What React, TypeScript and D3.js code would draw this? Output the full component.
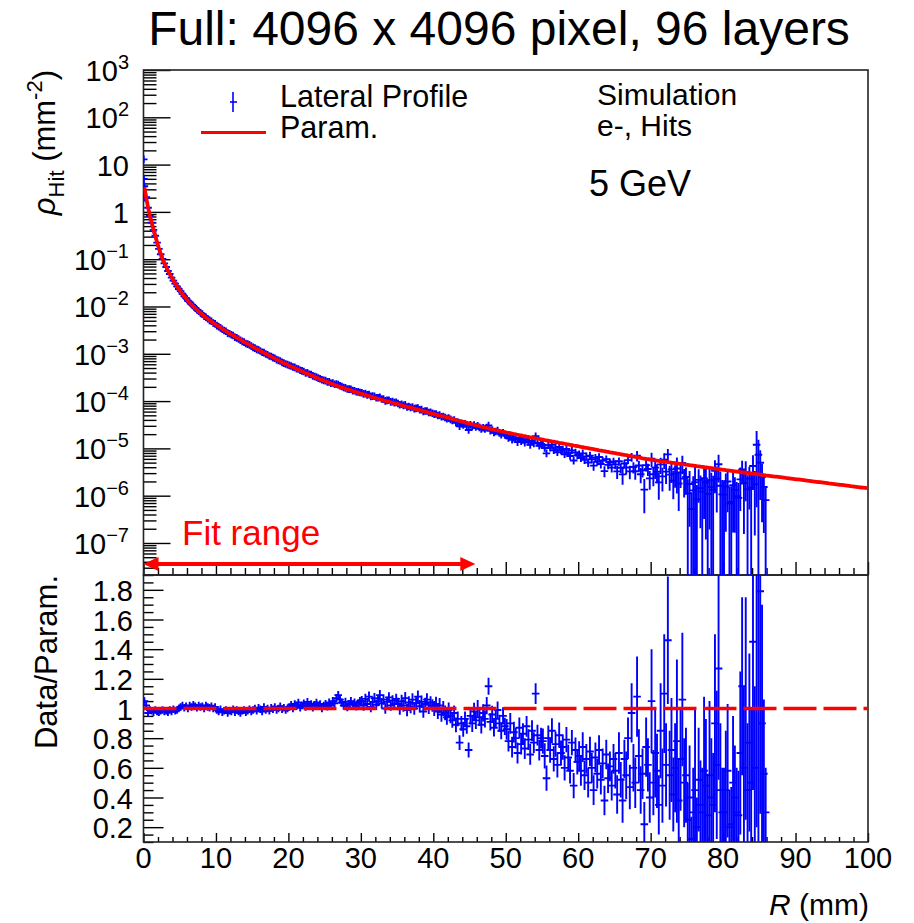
import React, { useEffect, useRef } from "react";
import * as d3 from "d3";

// lateral profile, 0.25 mm bins starting at R = 0
const BIN_WIDTH = 0.25;

// log10 of the parametrisation at the bin centres (0.125, 0.375, ... 99.875 mm)
const paramLog = [
  0.52, 0.30, 0.10, -0.08, -0.22, -0.37, -0.50, -0.64, -0.77, -0.89,
  -0.99, -1.08, -1.16, -1.24, -1.31, -1.38, -1.45, -1.51, -1.57, -1.63,
  -1.68, -1.74, -1.785, -1.83, -1.88, -1.92, -1.96, -2.0, -2.036, -2.07,
  -2.11, -2.14, -2.17, -2.205, -2.235, -2.265, -2.295, -2.32, -2.35, -2.37,
  -2.40, -2.42, -2.45, -2.47, -2.50, -2.52, -2.55, -2.57, -2.59, -2.61,
  -2.64, -2.66, -2.68, -2.70, -2.73, -2.75, -2.77, -2.79, -2.81, -2.83,
  -2.86, -2.88, -2.90, -2.92, -2.94, -2.96, -2.98, -3.0, -3.02, -3.04,
  -3.06, -3.08, -3.10, -3.12, -3.14, -3.16, -3.18, -3.20, -3.21, -3.23,
  -3.25, -3.27, -3.28, -3.30, -3.32, -3.34, -3.35, -3.37, -3.39, -3.41,
  -3.42, -3.44, -3.45, -3.47, -3.49, -3.51, -3.52, -3.54, -3.55, -3.57,
  -3.58, -3.60, -3.61, -3.63, -3.64, -3.66, -3.67, -3.69, -3.70, -3.71,
  -3.72, -3.74, -3.75, -3.76, -3.77, -3.79, -3.80, -3.81, -3.82, -3.84,
  -3.845, -3.856, -3.869, -3.881, -3.894, -3.905, -3.915, -3.926, -3.939, -3.95,
  -3.96, -3.971, -3.984, -3.995, -4.005, -4.015, -4.025, -4.035, -4.045, -4.055,
  -4.065, -4.076, -4.089, -4.10, -4.11, -4.12, -4.13, -4.14, -4.15, -4.16,
  -4.17, -4.18, -4.19, -4.20, -4.21, -4.221, -4.234, -4.245, -4.255, -4.265,
  -4.275, -4.285, -4.295, -4.305, -4.315, -4.325, -4.335, -4.345, -4.355, -4.365,
  -4.375, -4.386, -4.399, -4.41, -4.42, -4.43, -4.44, -4.45, -4.46, -4.47,
  -4.48, -4.49, -4.50, -4.51, -4.52, -4.53, -4.539, -4.549, -4.558, -4.568,
  -4.576, -4.586, -4.594, -4.604, -4.613, -4.621, -4.63, -4.638, -4.647, -4.655,
  -4.664, -4.672, -4.68, -4.688, -4.696, -4.704, -4.712, -4.72, -4.727, -4.735,
  -4.742, -4.75, -4.757, -4.765, -4.772, -4.78, -4.786, -4.794, -4.801, -4.808,
  -4.815, -4.823, -4.83, -4.838, -4.844, -4.852, -4.859, -4.866, -4.873, -4.881,
  -4.888, -4.895, -4.902, -4.91, -4.917, -4.924, -4.931, -4.939, -4.946, -4.953,
  -4.96, -4.968, -4.975, -4.982, -4.989, -4.997, -5.004, -5.011, -5.018, -5.025,
  -5.032, -5.04, -5.046, -5.054, -5.06, -5.068, -5.074, -5.082, -5.088, -5.096,
  -5.102, -5.11, -5.116, -5.124, -5.13, -5.138, -5.145, -5.152, -5.159, -5.167,
  -5.173, -5.181, -5.187, -5.195, -5.201, -5.209, -5.215, -5.223, -5.229, -5.236,
  -5.241, -5.247, -5.252, -5.257, -5.262, -5.268, -5.273, -5.279, -5.284, -5.29,
  -5.295, -5.301, -5.306, -5.311, -5.316, -5.322, -5.327, -5.333, -5.338, -5.344,
  -5.349, -5.355, -5.36, -5.365, -5.37, -5.376, -5.381, -5.387, -5.392, -5.398,
  -5.403, -5.408, -5.413, -5.418, -5.423, -5.428, -5.433, -5.438, -5.443, -5.449,
  -5.454, -5.46, -5.464, -5.469, -5.474, -5.479, -5.484, -5.489, -5.494, -5.5,
  -5.505, -5.51, -5.515, -5.52, -5.525, -5.53, -5.535, -5.54, -5.545, -5.551,
  -5.556, -5.561, -5.566, -5.571, -5.575, -5.58, -5.585, -5.59, -5.595, -5.599,
  -5.604, -5.609, -5.614, -5.619, -5.624, -5.628, -5.633, -5.638, -5.643, -5.648,
  -5.653, -5.657, -5.662, -5.667, -5.672, -5.677, -5.682, -5.686, -5.691, -5.696,
  -5.701, -5.706, -5.711, -5.715, -5.72, -5.725, -5.73, -5.735, -5.74, -5.744,
  -5.749, -5.754, -5.759, -5.764, -5.769, -5.773, -5.778, -5.783, -5.788, -5.793,
  -5.798, -5.802, -5.807, -5.812, -5.817, -5.822, -5.827, -5.831, -5.836, -5.841,
];

// Data/Param. per bin (0 - 86 mm)
const ratio = [
  1.05, 1.02, 0.97, 0.99, 0.985, 0.975, 0.99, 0.98, 0.975, 0.985,
  0.99, 0.98, 0.985, 0.975, 0.99, 0.98, 0.995, 0.985, 0.99, 1.0,
  1.01, 1.02, 1.005, 1.015, 1.0, 1.02, 1.01, 1.025, 1.015, 1.005,
  1.02, 1.01, 1.015, 1.0, 1.02, 1.01, 1.005, 1.015, 1.0, 1.01,
  0.99, 0.98, 0.995, 0.975, 0.985, 0.99, 0.97, 0.985, 0.98, 0.995,
  0.975, 0.99, 0.98, 0.97, 0.985, 0.99, 0.975, 0.985, 0.995, 0.98,
  0.99, 1.0, 0.985, 1.005, 0.995, 0.98, 1.01, 0.99, 1.0, 0.985,
  1.005, 0.995, 1.01, 0.99, 1.0, 1.015, 0.995, 1.005, 0.99, 1.0,
  1.01, 1.025, 1.0, 1.03, 1.015, 1.04, 1.005, 1.02, 1.035, 1.01,
  1.045, 1.02, 1.03, 1.005, 1.025, 1.04, 1.015, 1.03, 1.0, 1.02,
  1.03, 1.015, 1.04, 1.02, 1.05, 1.035, 1.07, 1.09, 1.06, 1.04,
  1.02, 1.045, 1.01, 1.03, 1.05, 1.025, 1.04, 1.015, 1.035, 1.05,
  1.05, 1.02, 1.065, 1.03, 1.08, 1.01, 1.045, 1.07, 1.025, 1.05,
  1.09, 1.035, 1.06, 1.0, 1.045, 1.075, 1.02, 1.055, 1.03, 1.065,
  1.03, 1.0, 1.05, 1.02, 1.07, 0.99, 1.04, 1.01, 1.06, 1.0,
  1.035, 1.08, 1.015, 1.045, 0.98, 1.03, 1.06, 1.005, 1.04, 1.02,
  1.0, 1.03, 0.98, 1.02, 0.96, 1.0, 0.97, 0.94, 0.99, 0.95,
  0.92, 0.97, 0.89, 0.93, 0.77, 0.9, 0.86, 0.93, 0.88, 0.72,
  0.95, 0.9, 0.98, 0.92, 1.0, 0.94, 0.89, 0.97, 0.93, 1.02,
  1.15, 0.91, 0.96, 0.87, 0.93, 0.99, 0.9, 0.85, 0.95, 0.88,
  0.86, 0.78, 0.9, 0.74, 0.84, 0.8, 0.7, 0.87, 0.76, 0.83,
  0.73, 0.88, 0.79, 0.69, 0.85, 0.77, 1.1, 0.82, 0.72, 0.8,
  0.78, 0.68, 0.53, 0.8, 0.72, 0.85, 0.66, 0.76, 0.62, 0.82,
  0.7, 0.74, 0.6, 0.79, 0.67, 0.58, 0.77, 0.48, 0.72, 0.64,
  0.68, 0.58, 0.74, 0.55, 0.66, 0.5, 0.71, 0.6, 0.45, 0.67,
  0.56, 0.72, 0.52, 0.63, 0.38, 0.69, 0.53, 0.61, 0.48, 0.66,
  0.58, 0.42, 0.7, 0.52, 0.38, 0.66, 0.55, 0.8, 0.47, 0.97,
  0.6, 0.5, 1.08, 0.68, 0.45, 0.56, 0.22, 0.74, 0.62, 0.4,
  1.05, 0.5, 0.7, 0.58, 0.35, 0.85, 0.48, 1.1, 0.62, 1.46,
  0.55, 0.72, 0.42, 0.6, 0.78, 0.38, 0.66, 1.06, 0.5, 0.55,
  0.25, 0.4, 0.12, 0.3, 0.45, 0.2, 0.52, 0.35, 0.3, 0.58,
  0.48, 0.28, 0.55, 0.4, 0.35, 0.9, 0.62, 1.27, 0.45, 0.3,
  0.3, 0.45, 0.58, 0.2, 0.22, 0.5, 0.4, 0.3, 0.28, 0.7,
  1.15, 0.6, 1.0, 0.45, 0.77, 0.5, 1.45, 0.6, 4.2, 2.6,
  1.79, 0.9, 0.56, 0.3,
];

const ratioErr = [
  0.02, 0.015, 0.012, 0.012, 0.011, 0.011, 0.011, 0.011, 0.011, 0.011,
  0.011, 0.011, 0.012, 0.012, 0.012, 0.012, 0.012, 0.012, 0.012, 0.012,
  0.013, 0.013, 0.013, 0.013, 0.013, 0.013, 0.013, 0.013, 0.013, 0.013,
  0.013, 0.013, 0.013, 0.013, 0.013, 0.013, 0.013, 0.013, 0.013, 0.013,
  0.015, 0.015, 0.015, 0.015, 0.015, 0.015, 0.015, 0.015, 0.015, 0.015,
  0.015, 0.015, 0.015, 0.015, 0.015, 0.015, 0.015, 0.015, 0.015, 0.015,
  0.018, 0.018, 0.018, 0.018, 0.018, 0.018, 0.018, 0.018, 0.018, 0.018,
  0.018, 0.018, 0.018, 0.018, 0.018, 0.018, 0.018, 0.018, 0.018, 0.018,
  0.022, 0.022, 0.022, 0.022, 0.022, 0.022, 0.022, 0.022, 0.022, 0.022,
  0.022, 0.022, 0.022, 0.022, 0.022, 0.022, 0.022, 0.022, 0.022, 0.022,
  0.028, 0.028, 0.028, 0.028, 0.028, 0.028, 0.028, 0.028, 0.028, 0.028,
  0.028, 0.028, 0.028, 0.028, 0.028, 0.028, 0.028, 0.028, 0.028, 0.028,
  0.035, 0.035, 0.035, 0.035, 0.035, 0.035, 0.035, 0.035, 0.035, 0.035,
  0.035, 0.035, 0.035, 0.035, 0.035, 0.035, 0.035, 0.035, 0.035, 0.035,
  0.042, 0.042, 0.042, 0.042, 0.042, 0.042, 0.042, 0.042, 0.042, 0.042,
  0.042, 0.042, 0.042, 0.042, 0.042, 0.042, 0.042, 0.042, 0.042, 0.042,
  0.05, 0.05, 0.05, 0.05, 0.05, 0.05, 0.05, 0.05, 0.05, 0.05,
  0.05, 0.05, 0.05, 0.05, 0.05, 0.05, 0.05, 0.05, 0.05, 0.05,
  0.058, 0.058, 0.058, 0.058, 0.058, 0.058, 0.058, 0.058, 0.058, 0.058,
  0.058, 0.058, 0.058, 0.058, 0.058, 0.058, 0.058, 0.058, 0.058, 0.058,
  0.07, 0.07, 0.07, 0.07, 0.07, 0.07, 0.07, 0.07, 0.07, 0.07,
  0.07, 0.07, 0.07, 0.07, 0.07, 0.07, 0.07, 0.07, 0.07, 0.07,
  0.085, 0.085, 0.085, 0.085, 0.085, 0.085, 0.085, 0.085, 0.085, 0.085,
  0.085, 0.085, 0.085, 0.085, 0.085, 0.085, 0.085, 0.085, 0.085, 0.085,
  0.1, 0.1, 0.1, 0.1, 0.1, 0.1, 0.1, 0.1, 0.1, 0.1,
  0.1, 0.1, 0.1, 0.1, 0.1, 0.1, 0.1, 0.1, 0.1, 0.1,
  0.12, 0.13, 0.14, 0.12, 0.15, 0.13, 0.16, 0.14, 0.15, 0.2,
  0.16, 0.17, 0.27, 0.18, 0.16, 0.17, 0.15, 0.2, 0.18, 0.17,
  0.35, 0.22, 0.3, 0.25, 0.2, 0.32, 0.25, 0.4, 0.28, 0.43,
  0.3, 0.35, 0.25, 0.3, 0.55, 0.28, 0.35, 0.45, 0.3, 0.32,
  0.25, 0.35, 0.15, 0.3, 0.55, 0.2, 0.35, 0.3, 0.3, 0.5,
  0.45, 0.28, 0.5, 0.4, 0.35, 0.6, 0.5, 0.75, 0.45, 0.3,
  0.3, 0.4, 0.45, 0.25, 0.25, 0.45, 0.35, 0.3, 0.3, 0.55,
  0.6, 0.55, 0.75, 0.45, 0.6, 0.5, 1.0, 0.55, 4.0, 2.8,
  1.5, 0.8, 0.5, 0.3,
];

// sub-bins right at the shower core
const coreR = [0.03, 0.06, 0.09];
const coreRho = [12.9, 5.0, 2.0];

const yDecades = [3, 2, 1, 0, -1, -2, -3, -4, -5, -6, -7];
const ratioTicks = [0.2, 0.4, 0.6, 0.8, 1, 1.2, 1.4, 1.6, 1.8];
const xTicks = [0, 10, 20, 30, 40, 50, 60, 70, 80, 90, 100];
const fitRange = [0, 45.8];

const FONT = "'Liberation Sans', Arial, Helvetica, sans-serif";
const BLUE = "#0000ff";
const RED = "#ff0000";

const X0 = 143.5;
const X1 = 868;
const TOP = 70;
const SPLIT = 575;
const BOTTOM = 842;
const Y_MIN = Math.pow(10, -7.677);
const MARK = 3.8; // half size of the "+" marker, px

const App = () => {
  const ref = useRef<SVGSVGElement>(null);

  useEffect(() => {
    const svg = d3.select(ref.current);
    svg.selectAll("*").remove();

    const x = d3.scaleLinear().domain([0, 100]).range([X0, X1]);
    const yTop = d3.scaleLog().domain([Y_MIN, 1000]).range([SPLIT, TOP]).clamp(true);
    const yRat = d3.scaleLinear().domain([0.1, 1.9]).range([BOTTOM, SPLIT]);

    const defs = svg.append("defs");
    defs.append("clipPath").attr("id", "clipTop")
      .append("rect").attr("x", X0).attr("y", TOP).attr("width", X1 - X0).attr("height", SPLIT - TOP);
    defs.append("clipPath").attr("id", "clipBot")
      .append("rect").attr("x", X0).attr("y", SPLIT).attr("width", X1 - X0).attr("height", BOTTOM - SPLIT);

    const clean = (g: any) => {
      g.select(".domain").remove();
      g.selectAll("text").remove();
      g.selectAll("line").attr("stroke", "#000").attr("stroke-width", 1.4);
    };

    // tick positions
    const xMinor = d3.range(0, 101, 2).filter((v) => v % 10 !== 0);
    const logMajor = yDecades.map((d) => Math.pow(10, d));
    const logMinor: number[] = [];
    for (let d = -8; d <= 2; d++) {
      for (let k = 2; k <= 9; k++) {
        const v = k * Math.pow(10, d);
        if (v >= Y_MIN && v <= 1000) logMinor.push(v);
      }
    }
    const ratMinor = d3.range(2, 39).filter((i) => i % 4 !== 0).map((i) => i * 0.05);

    // top pad axes
    svg.append("g").attr("transform", `translate(${X0},0)`)
      .call(d3.axisLeft(yTop).tickValues(logMajor).tickSize(-27).tickSizeOuter(0).tickFormat(() => ""))
      .call(clean);
    svg.append("g").attr("transform", `translate(${X0},0)`)
      .call(d3.axisLeft(yTop).tickValues(logMinor).tickSize(-13).tickSizeOuter(0).tickFormat(() => ""))
      .call(clean);
    svg.append("g").attr("transform", `translate(0,${SPLIT})`)
      .call(d3.axisBottom(x).tickValues(xTicks).tickSize(-13).tickSizeOuter(0).tickFormat(() => ""))
      .call(clean);
    svg.append("g").attr("transform", `translate(0,${SPLIT})`)
      .call(d3.axisBottom(x).tickValues(xMinor).tickSize(-7).tickSizeOuter(0).tickFormat(() => ""))
      .call(clean);

    // bottom pad axes
    svg.append("g").attr("transform", `translate(${X0},0)`)
      .call(d3.axisLeft(yRat).tickValues(ratioTicks).tickSize(-20).tickSizeOuter(0).tickFormat(() => ""))
      .call(clean);
    svg.append("g").attr("transform", `translate(${X0},0)`)
      .call(d3.axisLeft(yRat).tickValues(ratMinor).tickSize(-10).tickSizeOuter(0).tickFormat(() => ""))
      .call(clean);
    svg.append("g").attr("transform", `translate(0,${BOTTOM})`)
      .call(d3.axisBottom(x).tickValues(xTicks).tickSize(-9).tickSizeOuter(0).tickFormat(() => ""))
      .call(clean);
    svg.append("g").attr("transform", `translate(0,${BOTTOM})`)
      .call(d3.axisBottom(x).tickValues(xMinor).tickSize(-5).tickSizeOuter(0).tickFormat(() => ""))
      .call(clean);

    // frames
    svg.append("rect").attr("x", X0).attr("y", TOP).attr("width", X1 - X0).attr("height", SPLIT - TOP)
      .attr("fill", "none").attr("stroke", "#222").attr("stroke-width", 1.6);
    svg.append("rect").attr("x", X0).attr("y", SPLIT).attr("width", X1 - X0).attr("height", BOTTOM - SPLIT)
      .attr("fill", "none").attr("stroke", "#222").attr("stroke-width", 1.6);

    const pts = ratio.map((q, i) => {
      const r = (i + 0.5) * BIN_WIDTH;
      const p = Math.pow(10, paramLog[i]);
      return { r, v: p * q, e: p * ratioErr[i], q, qe: ratioErr[i] };
    });

    // top pad data: error bar + "+" marker
    const gTop = svg.append("g").attr("clip-path", "url(#clipTop)")
      .attr("stroke", BLUE).attr("stroke-width", 1.9);
    gTop.selectAll("path.pt").data(pts).join("path").attr("class", "pt")
      .attr("d", (d) => {
        const cx = x(d.r);
        const cy = yTop(d.v);
        const lo = Math.max(yTop(Math.max(d.v - d.e, 1e-12)), cy + MARK);
        const hi = Math.min(yTop(d.v + d.e), cy - MARK);
        return `M${cx},${lo}V${hi}M${cx - MARK},${cy}H${cx + MARK}`;
      });
    const core = coreR.map((r, i) => ({ r, v: coreRho[i] }));
    gTop.selectAll("path.core").data(core).join("path").attr("class", "core")
      .attr("d", (d) => {
        const cx = x(d.r);
        const cy = yTop(d.v);
        return `M${cx},${cy - MARK}V${cy + MARK}M${cx - MARK},${cy}H${cx + MARK}`;
      });

    // parametrisation
    const line = d3.line<number>()
      .x((_, i) => x((i + 0.5) * BIN_WIDTH))
      .y((d) => yTop(Math.pow(10, d)));
    svg.append("path").datum(paramLog).attr("clip-path", "url(#clipTop)")
      .attr("fill", "none").attr("stroke", RED).attr("stroke-width", 3.8)
      .attr("stroke-linejoin", "round").attr("d", line);

    // ratio pad data
    const gBot = svg.append("g").attr("clip-path", "url(#clipBot)")
      .attr("stroke", BLUE).attr("stroke-width", 1.9);
    gBot.selectAll("path.pt").data(pts).join("path").attr("class", "pt")
      .attr("d", (d) => {
        const cx = x(d.r);
        const cy = yRat(d.q);
        const lo = Math.max(yRat(d.q - d.qe), cy + MARK);
        const hi = Math.min(yRat(d.q + d.qe), cy - MARK);
        return `M${cx},${lo}V${hi}M${cx - MARK},${cy}H${cx + MARK}`;
      });

    // unity line
    svg.append("line").attr("x1", x(0)).attr("x2", x(100)).attr("y1", yRat(1)).attr("y2", yRat(1))
      .attr("stroke", RED).attr("stroke-width", 3.4).attr("stroke-dasharray", "33 7");

    // fit range arrow
    const ay = 564;
    const ax0 = x(fitRange[0]);
    const ax1 = x(fitRange[1]);
    svg.append("line").attr("x1", ax0 + 10).attr("x2", ax1 - 10).attr("y1", ay).attr("y2", ay)
      .attr("stroke", RED).attr("stroke-width", 4);
    svg.append("path").attr("fill", RED)
      .attr("d", `M${ax0},${ay} L${ax0 + 15},${ay - 7} L${ax0 + 15},${ay + 7} Z`);
    svg.append("path").attr("fill", RED)
      .attr("d", `M${ax1},${ay} L${ax1 - 15},${ay - 7} L${ax1 - 15},${ay + 7} Z`);
    svg.append("text").attr("x", 182).attr("y", 545).attr("fill", RED)
      .attr("font-size", 35).attr("font-family", FONT).text("Fit range");

    // tick labels
    const txt = svg.append("g").attr("font-family", FONT).attr("fill", "#000");
    yDecades.forEach((d) => {
      const yy = yTop(Math.pow(10, d)) + 11;
      const t = txt.append("text").attr("x", 129).attr("y", yy).attr("text-anchor", "end").attr("font-size", 29);
      if (d === 0) t.text("1");
      else if (d === 1) t.text("10");
      else {
        t.append("tspan").text("10");
        t.append("tspan").attr("font-size", 20).attr("dy", -12).text(d < 0 ? `\u2212${-d}` : `${d}`);
      }
    });
    ratioTicks.forEach((v) => {
      txt.append("text").attr("x", 133).attr("y", yRat(v) + 11).attr("text-anchor", "end")
        .attr("font-size", 29).text(d3.format("~g")(v));
    });
    xTicks.forEach((v) => {
      txt.append("text").attr("x", x(v)).attr("y", 868).attr("text-anchor", "middle")
        .attr("font-size", 29).text(String(v));
    });

    // axis titles
    const yt = txt.append("text").attr("transform", "translate(55,70) rotate(-90)")
      .attr("text-anchor", "end").attr("font-size", 31);
    yt.append("tspan").attr("font-style", "italic").text("\u03c1");
    yt.append("tspan").attr("font-size", 22).attr("dy", 9).text("Hit");
    yt.append("tspan").attr("dy", -9).text(" (mm");
    yt.append("tspan").attr("font-size", 22).attr("dy", -13).text("-2");
    yt.append("tspan").attr("dy", 13).text(")");

    txt.append("text").attr("transform", "translate(57,575) rotate(-90)")
      .attr("text-anchor", "end").attr("font-size", 31).text("Data/Param.");

    const xt = txt.append("text").attr("x", 869).attr("y", 915).attr("text-anchor", "end").attr("font-size", 30);
    xt.append("tspan").attr("font-style", "italic").text("R");
    xt.append("tspan").text(" (mm)");

    // title
    txt.append("text").attr("x", 499).attr("y", 45).attr("text-anchor", "middle")
      .attr("font-size", 48).text("Full: 4096 x 4096 pixel, 96 layers");

    // legend
    svg.append("line").attr("x1", 233).attr("x2", 233).attr("y1", 92).attr("y2", 112)
      .attr("stroke", BLUE).attr("stroke-width", 1.6);
    svg.append("line").attr("x1", 230).attr("x2", 237).attr("y1", 102).attr("y2", 102)
      .attr("stroke", BLUE).attr("stroke-width", 1.6);
    svg.append("line").attr("x1", 201).attr("x2", 266).attr("y1", 132.5).attr("y2", 132.5)
      .attr("stroke", RED).attr("stroke-width", 3);
    txt.append("text").attr("x", 280).attr("y", 107).attr("font-size", 30.5).text("Lateral Profile");
    txt.append("text").attr("x", 280).attr("y", 138).attr("font-size", 30.5).text("Param.");

    txt.append("text").attr("x", 597).attr("y", 104.5).attr("font-size", 30).text("Simulation");
    txt.append("text").attr("x", 597).attr("y", 136).attr("font-size", 30).text("e-, Hits");
    txt.append("text").attr("x", 589).attr("y", 196).attr("font-size", 36).text("5 GeV");
  }, []);

  return (
    <svg
      ref={ref}
      width={914}
      height={923}
      style={{ position: "absolute", left: 0, top: 0, background: "#fff" }}
    />
  );
};

export default App;
